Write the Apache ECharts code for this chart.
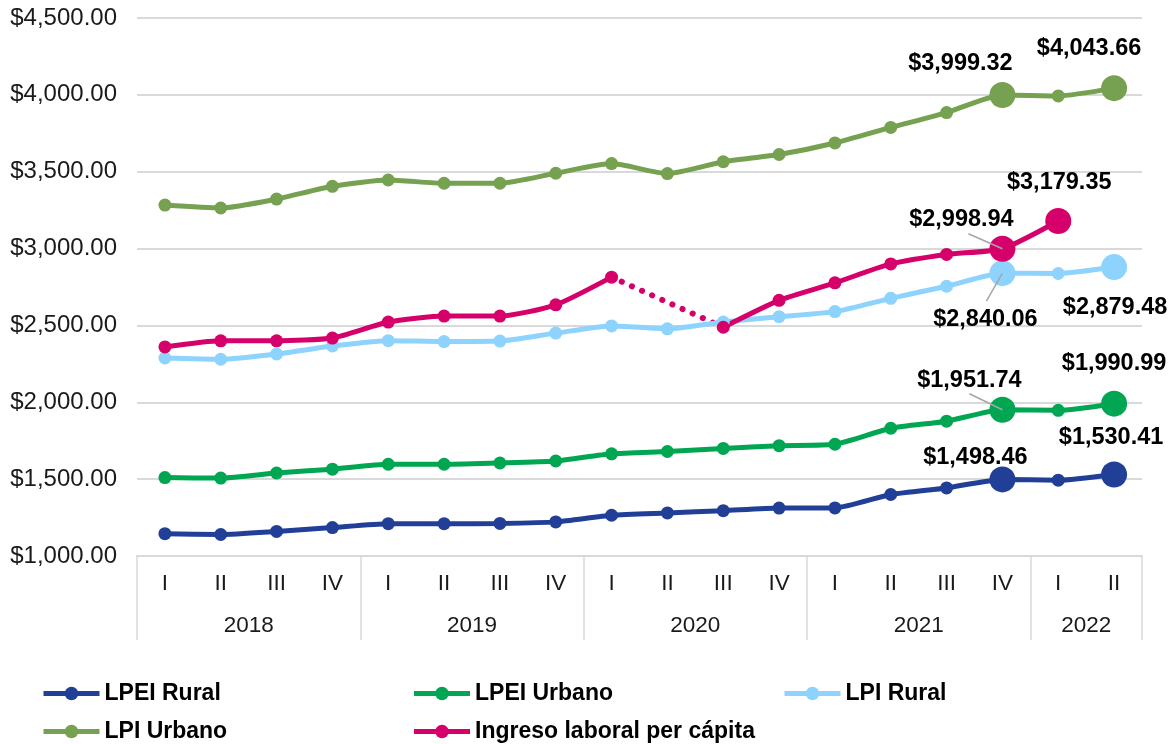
<!DOCTYPE html>
<html>
<head>
<meta charset="utf-8">
<script src="https://cdn.jsdelivr.net/npm/echarts@6/dist/echarts.min.js"></script>
<style>
  html, body { margin: 0; padding: 0; background: #fff; }
  #chart { width: 1169px; height: 744px; }
</style>
</head>
<body>
<div id="chart"></div>
<script>
// categorias
const quarters = ['I', 'II', 'III', 'IV', 'I', 'II', 'III', 'IV', 'I', 'II', 'III', 'IV', 'I', 'II', 'III', 'IV', 'I', 'II']
const years = ['2018', '2019', '2020', '2021', '2022']
const quartersPerYear = [4, 4, 4, 4, 2]

// series
const lpeiRural = [1145, 1140, 1160, 1185, 1210, 1210, 1212, 1222, 1265, 1280, 1295, 1312, 1313, 1400, 1443, 1498.46, 1493, 1530.41]
const lpeiUrbano = [1510, 1507, 1540, 1565, 1597, 1597, 1605, 1618, 1665, 1680, 1700, 1718, 1727, 1831, 1877, 1951.74, 1948, 1990.99]
const lpiRural = [2288, 2280, 2314, 2366, 2401, 2395, 2398, 2450, 2497, 2478, 2522, 2557, 2590, 2676, 2755, 2840.06, 2838, 2879.48]
const lpiUrbano = [3283, 3264, 3322, 3405, 3446, 3425, 3425, 3490, 3553, 3488, 3565, 3612, 3687, 3788, 3885, 3999.32, 3993, 4043.66]
const ingreso = [2360, 2400, 2400, 2418, 2522, 2561, 2561, 2634, 2814, null, 2488, 2663, 2777, 2900, 2962, 2998.94, 3179.35, null]
// tramo punteado 2020 (sin dato en II)
const ingresoGap = [null, null, null, null, null, null, null, null, 2814, null, 2488, null, null, null, null, null, null, null]

// etiquetas destacadas: indice -> desplazamiento del texto
const callouts = {
    lpeiRural: { 15: [-27, -22], 17: [-3, -37] },
    lpeiUrbano: { 15: [-33, -29], 17: [0, -40] },
    lpiRural: { 15: [-17, 46], 17: [1, 40] },
    lpiUrbano: { 15: [-42, -31], 17: [-25, -40] },
    ingreso: { 15: [-41, -29], 16: [1, -38] }
}
// lineas guia: indice -> extremo relativo al punto
const leaders = {
    lpeiUrbano: { 15: [-33, -16] },
    lpiRural: { 15: [-16, 28] },
    ingreso: { 15: [-34, -15] }
}

const FONT = '"Liberation Sans", Arial, sans-serif'

function money(v) {
    return '$' + v.toLocaleString('en-US', { minimumFractionDigits: 2, maximumFractionDigits: 2 })
}

function buildData(key, values) {
    const marks = callouts[key] || {}
    return values.map((v, i) => {
        if (v === null) return null
        if (!marks[i]) return v
        return {
            value: v,
            symbolSize: 26,
            label: {
                show: true,
                position: 'inside',
                offset: marks[i],
                formatter: money(v),
                fontFamily: FONT,
                fontSize: 23.5,
                fontWeight: 'bold',
                color: '#000'
            }
        }
    })
}

function lineSeries(name, key, values, color) {
    return {
        name: name,
        type: 'line',
        data: buildData(key, values),
        smooth: 0.2,
        symbol: 'circle',
        symbolSize: 13,
        connectNulls: false,
        lineStyle: { color: color, width: 5 },
        itemStyle: { color: color },
        z: 3
    }
}

// etiquetas de año y separadores
const yearLabelPos = []
const yearBounds = [0]
let acc = 0
quartersPerYear.forEach(n => {
    yearLabelPos.push(acc + n / 2)
    acc += n
    yearBounds.push(acc)
})

const chart = echarts.init(document.getElementById('chart'))

const seriesKeys = ['lpeiRural', 'lpeiUrbano', 'lpiRural', 'lpiUrbano', 'ingreso']
const seriesValues = { lpeiRural, lpeiUrbano, lpiRural, lpiUrbano, ingreso }

const option = {
    animation: false,
    grid: { left: 137, right: 27, top: 18, bottom: 188 },
    legend: {
        data: ['LPEI Rural', 'LPEI Urbano', 'LPI Rural', 'LPI Urbano', 'Ingreso laboral per cápita'],
        left: 41,
        top: 682,
        padding: 0,
        width: 1120,
        itemWidth: 56,
        itemHeight: 17,
        itemGap: 15,
        lineStyle: { width: 5 },
        textStyle: { fontFamily: FONT, fontSize: 23, fontWeight: 'bold', color: '#000', width: 292, lineHeight: 23 }
    },
    xAxis: [
        {
            type: 'category',
            data: quarters,
            boundaryGap: true,
            axisLine: { lineStyle: { color: '#d9d9d9', width: 2 } },
            axisTick: { show: false },
            axisLabel: { fontFamily: FONT, fontSize: 22.5, color: '#1a1a1a', margin: 16 }
        },
        {
            type: 'value',
            min: 0,
            max: quarters.length,
            position: 'bottom',
            offset: 84,
            axisLine: { show: false },
            splitLine: { show: false },
            axisTick: {
                show: true,
                inside: true,
                length: 84,
                customValues: yearBounds,
                lineStyle: { color: '#d9d9d9', width: 1.5 }
            },
            axisLabel: {
                inside: true,
                margin: 3,
                customValues: yearLabelPos,
                formatter: (v) => years[yearLabelPos.indexOf(v)],
                fontFamily: FONT,
                fontSize: 22.5,
                color: '#1a1a1a'
            }
        }
    ],
    yAxis: {
        type: 'value',
        min: 1000,
        max: 4500,
        interval: 500,
        axisLine: { show: false },
        axisTick: { show: false },
        splitLine: { lineStyle: { color: '#d9d9d9', width: 2 } },
        axisLabel: {
            formatter: (v) => money(v),
            fontFamily: FONT,
            fontSize: 24,
            color: '#1a1a1a',
            margin: 20
        }
    },
    series: [
        lineSeries('LPEI Rural', 'lpeiRural', lpeiRural, '#223f98'),
        lineSeries('LPEI Urbano', 'lpeiUrbano', lpeiUrbano, '#00a651'),
        lineSeries('LPI Rural', 'lpiRural', lpiRural, '#8dd3fd'),
        lineSeries('LPI Urbano', 'lpiUrbano', lpiUrbano, '#76a150'),
        lineSeries('Ingreso laboral per cápita', 'ingreso', ingreso, '#d6006b'),
        {
            name: 'Ingreso 2020',
            type: 'line',
            data: ingresoGap,
            connectNulls: true,
            symbol: 'none',
            lineStyle: { color: '#d6006b', width: 6, type: [0.1, 11], cap: 'round' },
            z: 2
        }
    ]
}

chart.setOption(option)

// lineas guia desde el punto hacia su etiqueta
const guideLines = []
seriesKeys.forEach(key => {
    const ends = leaders[key] || {}
    Object.keys(ends).forEach(k => {
        const i = parseInt(k)
        const p = chart.convertToPixel({ xAxisIndex: 0, yAxisIndex: 0 }, [i, seriesValues[key][i]])
        guideLines.push({
            type: 'line',
            z: 100,
            shape: { x1: p[0], y1: p[1], x2: p[0] + ends[k][0], y2: p[1] + ends[k][1] },
            style: { stroke: '#a6a6a6', lineWidth: 1.5 }
        })
    })
})
chart.setOption({ graphic: guideLines })
</script>
</body>
</html>
